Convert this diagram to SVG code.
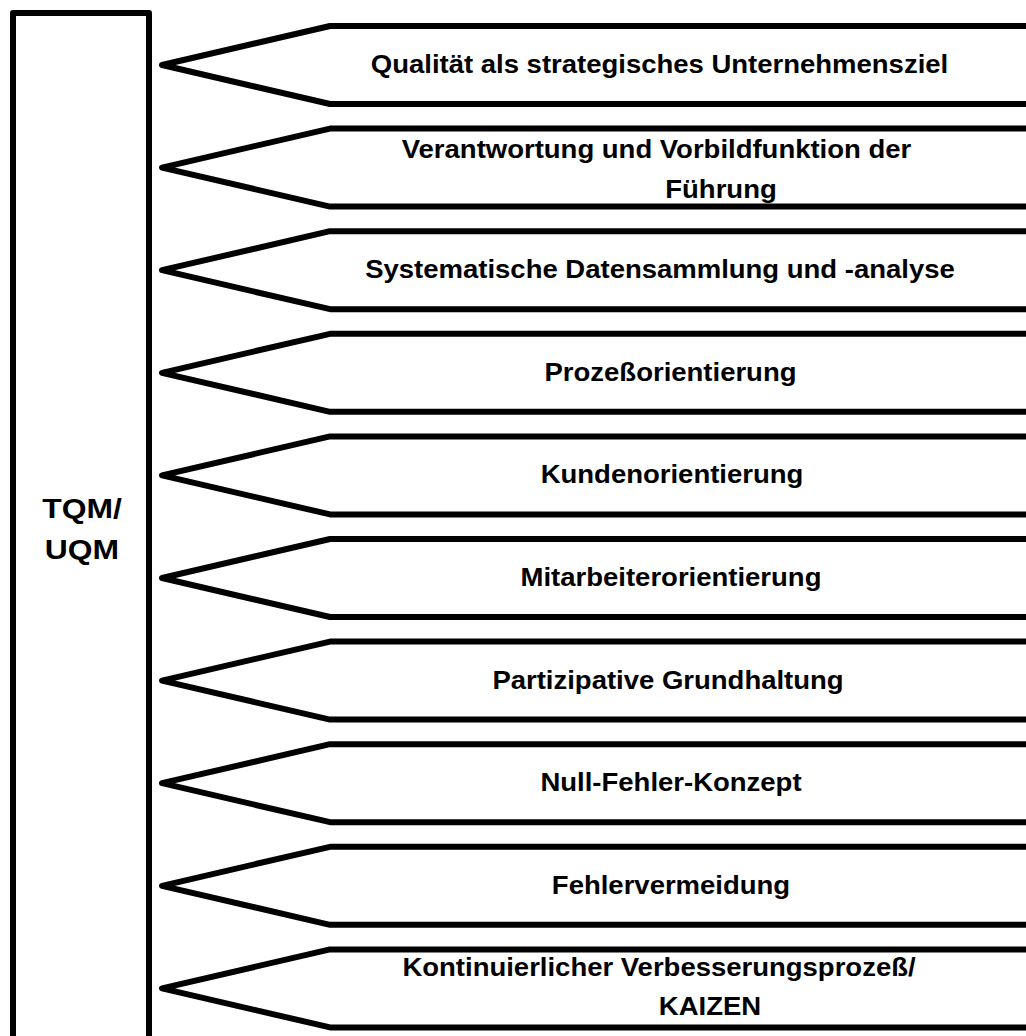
<svg xmlns="http://www.w3.org/2000/svg" width="1026" height="1036" viewBox="0 0 1026 1036">
  <defs>
    <style>
      .frame { fill: #ffffff; stroke: #000000; stroke-width: 6; stroke-linejoin: round; }
      .lbl { font-family: "Liberation Sans", Arial, sans-serif; font-weight: bold; font-size: 25px; fill: #000000; text-anchor: middle; }
      .big { font-size: 27px; }
    </style>
    <!-- pointer banner: tip at (0,0), body runs off to the right edge -->
    <polygon id="banner" class="frame" points="880,-39 168,-39 0,0 168,39 880,39"/>
  </defs>
  <rect width="1026" height="1036" fill="#ffffff"/>

  <!-- main column -->
  <g id="tqm">
    <rect class="frame" x="13" y="13" width="136" height="1040"/>
    <text class="lbl big" transform="translate(82,518) scale(1.18,1)">TQM/</text>
    <text class="lbl big" transform="translate(82,559) scale(1.18,1)">UQM</text>
  </g>

  <g id="connectors"></g>

  <g id="p1">
    <use href="#banner" x="162" y="65"/>
    <text class="lbl" transform="translate(659.5,73) scale(1.1,1)">Qualität als strategisches Unternehmensziel</text>
  </g>
  <g id="p2">
    <use href="#banner" x="162" y="167.6"/>
    <text class="lbl" transform="translate(656.5,157.5) scale(1.1,1)">Verantwortung und Vorbildfunktion der</text>
    <text class="lbl" transform="translate(721,197.5) scale(1.1,1)">Führung</text>
  </g>
  <g id="p3">
    <use href="#banner" x="162" y="270.2"/>
    <text class="lbl" transform="translate(660,278.2) scale(1.1,1)">Systematische Datensammlung und -analyse</text>
  </g>
  <g id="p4">
    <use href="#banner" x="162" y="372.8"/>
    <text class="lbl" transform="translate(670.5,380.8) scale(1.1,1)">Prozeßorientierung</text>
  </g>
  <g id="p5">
    <use href="#banner" x="162" y="475.4"/>
    <text class="lbl" transform="translate(672,483.4) scale(1.1,1)">Kundenorientierung</text>
  </g>
  <g id="p6">
    <use href="#banner" x="162" y="578"/>
    <text class="lbl" transform="translate(671,586) scale(1.1,1)">Mitarbeiterorientierung</text>
  </g>
  <g id="p7">
    <use href="#banner" x="162" y="680.6"/>
    <text class="lbl" transform="translate(668,688.6) scale(1.1,1)">Partizipative Grundhaltung</text>
  </g>
  <g id="p8">
    <use href="#banner" x="162" y="783.2"/>
    <text class="lbl" transform="translate(671,791.2) scale(1.1,1)">Null-Fehler-Konzept</text>
  </g>
  <g id="p9">
    <use href="#banner" x="162" y="885.8"/>
    <text class="lbl" transform="translate(671,893.8) scale(1.1,1)">Fehlervermeidung</text>
  </g>
  <g id="p10">
    <use href="#banner" x="162" y="988.4"/>
    <text class="lbl" transform="translate(659,975.5) scale(1.1,1)">Kontinuierlicher Verbesserungsprozeß/</text>
    <text class="lbl" transform="translate(710,1014.5) scale(1.1,1)">KAIZEN</text>
  </g>
</svg>
